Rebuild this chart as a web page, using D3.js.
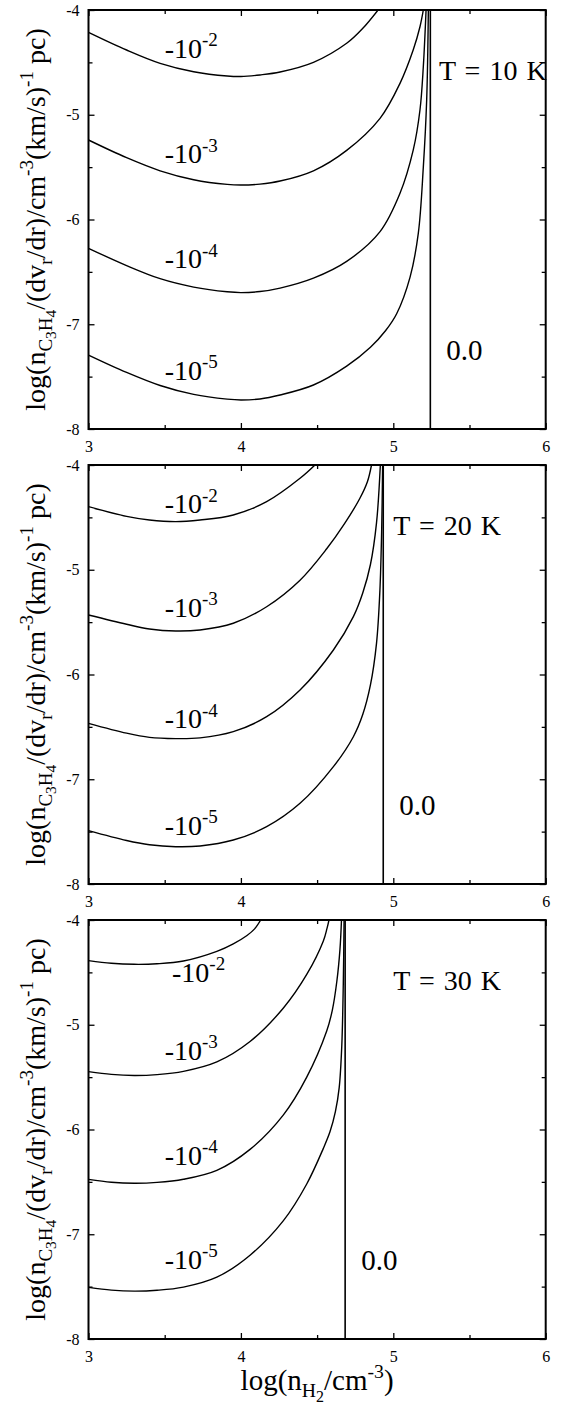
<!DOCTYPE html>
<html>
<head>
<meta charset="utf-8">
<script src="https://cdn.jsdelivr.net/npm/d3@7"></script>
<style>
html, body { margin: 0; padding: 0; background: #fff; }
svg { display: block; }
text { white-space: pre; }
</style>
</head>
<body>
<div id="chart"></div>
<script>
/* global d3 */
const FONT= '"Liberation Serif", "Times New Roman", "DejaVu Serif", serif';

// axes
const X_DOMAIN= [3, 6];
const Y_DOMAIN= [-8, -4];
const X_TICKS= [3, 4, 5, 6];
const X_MINOR= [3.5, 4.5, 5.5];
const Y_TICKS= [-8, -7, -6, -5, -4];
const Y_MINOR= [-7.5, -6.5, -5.5, -4.5];

const TEMPS= ['T = 10 K', 'T = 20 K', 'T = 30 K'];
const EXPONENTS= ['-2', '-3', '-4', '-5'];
const ZERO_X= [5.243, 4.934, 4.684];

// T = 10 K curves, [log nH2, log value]
const T10_M2= [[3.0,-4.213],[3.25,-4.382],[3.47,-4.509],[3.69,-4.589],[3.91,-4.630],[4.0,-4.635],[4.125,-4.62],[4.257,-4.592],[4.476,-4.50],[4.694,-4.318],[4.80,-4.175],[4.90,-4.0]];
const T10_M3= [[3.0,-5.241],[3.25,-5.41],[3.47,-5.535],[3.69,-5.62],[3.91,-5.665],[4.0,-5.671],[4.125,-5.662],[4.257,-5.633],[4.476,-5.535],[4.694,-5.34],[4.913,-5.034],[5.044,-4.70],[5.131,-4.38],[5.175,-4.16],[5.197,-4.0]];
const T10_M4= [[3.0,-6.275],[3.25,-6.44],[3.47,-6.565],[3.69,-6.645],[3.91,-6.69],[4.0,-6.698],[4.125,-6.688],[4.257,-6.655],[4.476,-6.56],[4.694,-6.40],[4.913,-6.116],[5.044,-5.75],[5.131,-5.336],[5.175,-4.955],[5.197,-4.54],[5.215,-4.0]];
const T10_M5= [[3.0,-7.294],[3.25,-7.46],[3.47,-7.585],[3.69,-7.67],[3.91,-7.715],[4.0,-7.723],[4.125,-7.713],[4.257,-7.675],[4.476,-7.58],[4.694,-7.40],[4.85,-7.22],[4.95,-7.06],[5.022,-6.90],[5.11,-6.55],[5.164,-6.132],[5.197,-5.50],[5.219,-4.86],[5.23,-4.0]];

// T = 20 K
const T20_M2= [[3.0,-4.398],[3.25,-4.49],[3.4,-4.525],[3.572,-4.541],[3.732,-4.525],[3.95,-4.477],[4.169,-4.35],[4.388,-4.127],[4.486,-4.0]];
const T20_M3= [[3.0,-5.432],[3.25,-5.52],[3.4,-5.565],[3.572,-5.585],[3.732,-5.575],[3.95,-5.511],[4.169,-5.353],[4.388,-5.10],[4.563,-4.80],[4.68,-4.56],[4.78,-4.32],[4.83,-4.16],[4.857,-4.0]];
const T20_M4= [[3.0,-6.466],[3.25,-6.56],[3.4,-6.6],[3.572,-6.612],[3.732,-6.605],[3.95,-6.546],[4.169,-6.403],[4.388,-6.148],[4.607,-5.766],[4.738,-5.448],[4.80,-5.22],[4.85,-4.95],[4.89,-4.55],[4.915,-4.0]];
const T20_M5= [[3.0,-7.491],[3.25,-7.585],[3.4,-7.625],[3.572,-7.644],[3.732,-7.637],[3.95,-7.58],[4.169,-7.453],[4.388,-7.23],[4.607,-6.88],[4.738,-6.594],[4.80,-6.38],[4.85,-6.1],[4.89,-5.7],[4.912,-5.2],[4.924,-4.6],[4.93,-4.0]];

// T = 30 K
const T30_M2= [[3.0,-4.388],[3.15,-4.413],[3.3,-4.423],[3.45,-4.418],[3.623,-4.392],[3.842,-4.30],[3.95,-4.228],[4.04,-4.148],[4.09,-4.085],[4.13,-4.0]];
const T30_M3= [[3.0,-5.448],[3.15,-5.474],[3.3,-5.484],[3.45,-5.476],[3.623,-5.445],[3.842,-5.355],[4.06,-5.16],[4.279,-4.84],[4.432,-4.52],[4.541,-4.20],[4.565,-4.08],[4.578,-4.0]];
const T30_M4= [[3.0,-6.476],[3.15,-6.503],[3.3,-6.513],[3.45,-6.505],[3.623,-6.475],[3.842,-6.39],[4.06,-6.19],[4.279,-5.86],[4.432,-5.50],[4.563,-5.06],[4.6,-4.86],[4.63,-4.58],[4.65,-4.28],[4.66,-4.0]];
const T30_M5= [[3.0,-7.507],[3.15,-7.533],[3.3,-7.543],[3.45,-7.535],[3.623,-7.505],[3.842,-7.41],[4.06,-7.20],[4.279,-6.87],[4.432,-6.52],[4.541,-6.18],[4.585,-6.02],[4.62,-5.83],[4.645,-5.6],[4.662,-5.2],[4.672,-4.6],[4.677,-4.0]];

const CURVES= [
  [T10_M2, T10_M3, T10_M4, T10_M5],
  [T20_M2, T20_M3, T20_M4, T20_M5],
  [T30_M2, T30_M3, T30_M4, T30_M5],
];

// where the "-10^n" labels sit (data coords, left/baseline)
const LABEL_AT= [
  [[3.5,-4.46],[3.5,-5.464],[3.5,-6.466],[3.5,-7.532]],
  [[3.5,-4.461],[3.5,-5.448],[3.5,-6.514],[3.5,-7.532]],
  [[3.548,-4.589],[3.5,-5.337],[3.5,-6.339],[3.5,-7.33]],
];
const TEMP_AT= [[5.30,-4.668],[5.0,-4.668],[5.0,-4.668]];

const W= 574, H= 1405;
const LEFT= 88.5, RIGHT= 545.7;
const PANEL_TOP= [10, 465, 920];
const PH= 419;

const svg= d3.select('#chart').append('svg')
  .attr('width', W).attr('height', H)
  .attr('font-family', FONT)
  .attr('fill', '#000');

const x= d3.scaleLinear().domain(X_DOMAIN).range([LEFT, RIGHT]);

// parts: [string, level]  level 0 normal, 1 sup, -1 sub, -2 sub of sub
function rich(t, parts, F) {
  const off= { '0': 0, '1': -0.42*F, '-1': 0.24*F, '-2': 0.40*F };
  const size= { '0': F, '1': 0.68*F, '-1': 0.68*F, '-2': 0.55*F };
  let cur= 0;
  parts.forEach(([s, l]) => {
    t.append('tspan')
      .attr('dy', (off[l]-cur).toFixed(2))
      .attr('font-size', size[l])
      .text(s);
    cur= off[l];
  });
}

function styleAxis(sel) {
  sel.attr('font-family', FONT).attr('font-size', 16);
  sel.select('.domain').remove();
  sel.selectAll('.tick line').attr('stroke', '#000').attr('stroke-width', 1.3);
  sel.selectAll('.tick text').attr('fill', '#000');
}

function drawPanel(i) {
  const top= PANEL_TOP[i];
  const y= d3.scaleLinear().domain(Y_DOMAIN).range([top+PH, top]);
  const g= svg.append('g').attr('class', 'panel');

  g.append('clipPath').attr('id', `clip${i}`)
    .append('rect').attr('x', LEFT).attr('y', top).attr('width', RIGHT-LEFT).attr('height', PH);

  const line= d3.line()
    .x(d => x(d[0]))
    .y(d => y(d[1]))
    .curve(d3.curveCatmullRom.alpha(0.5));

  const gc= g.append('g').attr('clip-path', `url(#clip${i})`);
  gc.selectAll('path.curve')
    .data(CURVES[i])
    .join('path')
    .attr('class', 'curve')
    .attr('d', line)
    .attr('fill', 'none')
    .attr('stroke', '#000')
    .attr('stroke-width', 1.4);

  gc.append('line')
    .attr('x1', x(ZERO_X[i])).attr('x2', x(ZERO_X[i]))
    .attr('y1', y(Y_DOMAIN[0])).attr('y2', y(Y_DOMAIN[1]))
    .attr('stroke', '#000').attr('stroke-width', 1.6);

  // axes: ticks point inward on all four sides
  g.append('g').attr('transform', `translate(0,${top+PH})`)
    .call(d3.axisBottom(x).tickValues(X_TICKS).tickSizeInner(-6).tickSizeOuter(0).tickPadding(12).tickFormat(d => String(d)))
    .call(styleAxis);
  g.append('g').attr('transform', `translate(0,${top+PH})`)
    .call(d3.axisBottom(x).tickValues(X_MINOR).tickSizeInner(-4).tickSizeOuter(0).tickFormat(''))
    .call(styleAxis);
  g.append('g').attr('transform', `translate(0,${top})`)
    .call(d3.axisTop(x).tickValues(X_TICKS).tickSizeInner(-6).tickSizeOuter(0).tickFormat(''))
    .call(styleAxis);
  g.append('g').attr('transform', `translate(0,${top})`)
    .call(d3.axisTop(x).tickValues(X_MINOR).tickSizeInner(-4).tickSizeOuter(0).tickFormat(''))
    .call(styleAxis);
  g.append('g').attr('transform', `translate(${LEFT},0)`)
    .call(d3.axisLeft(y).tickValues(Y_TICKS).tickSizeInner(-6).tickSizeOuter(0).tickPadding(9).tickFormat(d => String(d)))
    .call(styleAxis);
  g.append('g').attr('transform', `translate(${LEFT},0)`)
    .call(d3.axisLeft(y).tickValues(Y_MINOR).tickSizeInner(-4).tickSizeOuter(0).tickFormat(''))
    .call(styleAxis);
  g.append('g').attr('transform', `translate(${RIGHT},0)`)
    .call(d3.axisRight(y).tickValues(Y_TICKS).tickSizeInner(-6).tickSizeOuter(0).tickFormat(''))
    .call(styleAxis);
  g.append('g').attr('transform', `translate(${RIGHT},0)`)
    .call(d3.axisRight(y).tickValues(Y_MINOR).tickSizeInner(-4).tickSizeOuter(0).tickFormat(''))
    .call(styleAxis);

  g.append('rect')
    .attr('x', LEFT).attr('y', top)
    .attr('width', RIGHT-LEFT).attr('height', PH)
    .attr('fill', 'none').attr('stroke', '#000').attr('stroke-width', 2);

  // curve labels
  LABEL_AT[i].forEach((p, k) => {
    const t= g.append('text').attr('x', x(p[0])).attr('y', y(p[1]));
    rich(t, [['-10', 0], [EXPONENTS[k], 1]], 28);
  });

  g.append('text')
    .attr('x', x(TEMP_AT[i][0])).attr('y', y(TEMP_AT[i][1]))
    .attr('font-size', 28)
    .attr('word-spacing', 2)
    .text(TEMPS[i]);

  g.append('text')
    .attr('x', x(ZERO_X[i]+0.105)).attr('y', y(-7.34))
    .attr('font-size', 29)
    .text('0.0');

  // y title
  const yt= g.append('text')
    .attr('transform', `translate(45,${top+PH/2}) rotate(-90)`)
    .attr('text-anchor', 'middle')
    .attr('font-size', 28);
  rich(yt, [['log(n', 0], ['C', -1], ['3', -2], ['H', -1], ['4', -2], ['/(dv', 0], ['r', -1],
    ['/dr)/cm', 0], ['-3', 1], ['(km/s)', 0], ['-1', 1], [' pc)', 0]], 28);
}

[0, 1, 2].forEach(drawPanel);

// x title
const xt= svg.append('text')
  .attr('x', (LEFT+RIGHT)/2).attr('y', 1390)
  .attr('text-anchor', 'middle')
  .attr('font-size', 29);
rich(xt, [['log(n', 0], ['H', -1], ['2', -2], ['/cm', 0], ['-3', 1], [')', 0]], 29);
</script>
</body>
</html>
